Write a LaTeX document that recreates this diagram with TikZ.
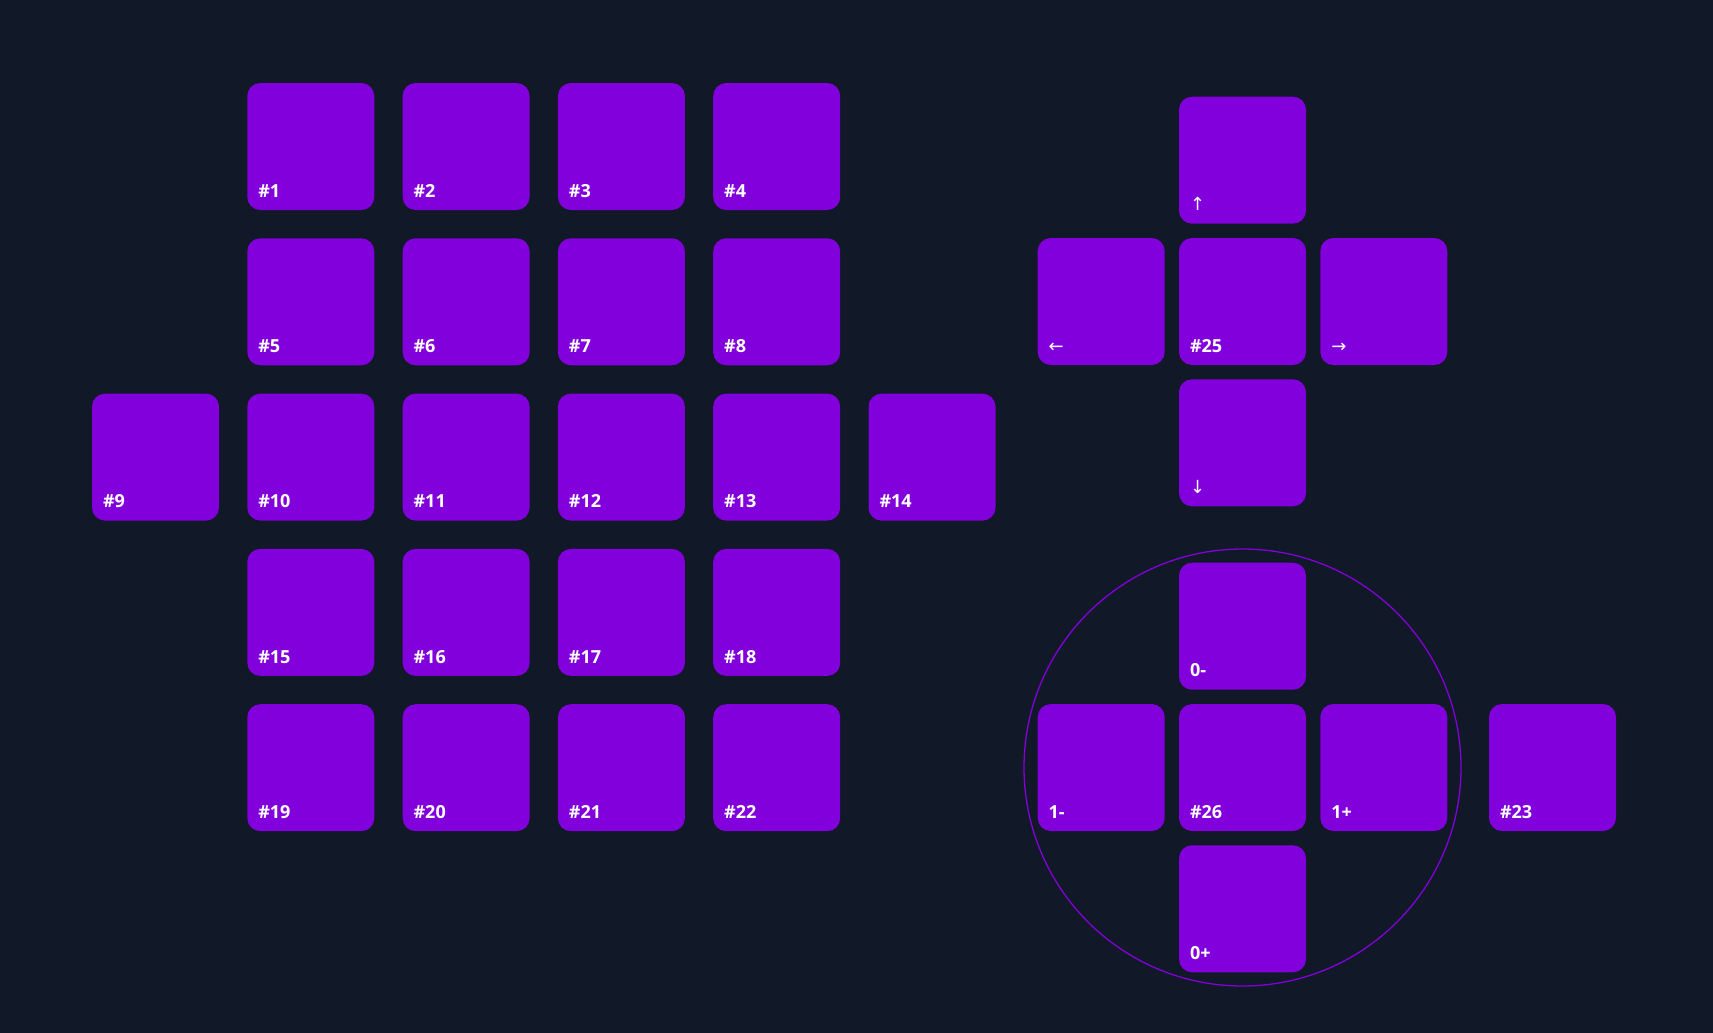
\documentclass[tikz,border=0pt]{standalone}
\usepackage{fontspec}
\setmainfont{Open Sans}
\newfontfamily\arrowfont{DejaVu Sans}
\usepackage{tikz}

\definecolor{bgdark}{HTML}{111827}
\definecolor{keypurple}{HTML}{8200DB}

\begin{document}
\begin{tikzpicture}[x=1pt, y=-1pt, node distance={155.3pt},
    tag/.style = {anchor=base west, xshift=11pt, yshift=13pt, inner sep=0pt, text=white,
                  font=\bfseries\fontsize{18}{18}\selectfont},
    key/.style = {fill=keypurple, rounded corners=13pt, minimum size=127pt, inner sep=0pt,
                  label={[tag]south west:#1}},
    ring/.style = {draw=keypurple, line width=1.3pt}]
        \fill[bgdark] (0,0) rectangle (1713,1033);
        \useasboundingbox (0,0) rectangle (1713,1033);

        % main grid
        \node[key=\#1] (1) at (310.8,146.5) {};
        \node[key=\#2] (2) [right of=1] {};
        \node[key=\#3] (3) [right of=2] {};
        \node[key=\#4] (4) [right of=3] {};

        \node[key=\#5] (5) [below of=1] {};
        \node[key=\#6] (6) [right of=5] {};
        \node[key=\#7] (7) [right of=6] {};
        \node[key=\#8] (8) [right of=7] {};

        \node[key=\#10] (10) [below of=5] {};
        \node[key=\#9] (9) [left of=10] {};
        \node[key=\#11] (11) [right of=10] {};
        \node[key=\#12] (12) [right of=11] {};
        \node[key=\#13] (13) [right of=12] {};
        \node[key=\#14] (14) [right of=13] {};

        \node[key=\#15] (15) [below of=10] {};
        \node[key=\#16] (16) [right of=15] {};
        \node[key=\#17] (17) [right of=16] {};
        \node[key=\#18] (18) [right of=17] {};

        \node[key=\#19] (19) [below of=15] {};
        \node[key=\#20] (20) [right of=19] {};
        \node[key=\#21] (21) [right of=20] {};
        \node[key=\#22] (22) [right of=21] {};

        % arrow pad
        \begin{scope}[node distance={141.3pt}]
        \node[key=\#25] (25) at (1242.5,301.5) {};
        \node[key={\arrowfont\mdseries ↑}] (up) [above of=25] {};
        \node[key={\arrowfont\mdseries ↓}] (dn) [below of=25] {};
        \node[key={\arrowfont\mdseries ←}] (lt) [left of=25] {};
        \node[key={\arrowfont\mdseries →}] (rt) [right of=25] {};

        % dial
        \node[key=\#26] (26) at (1242.5,767.5) {};
        \node[key=0-] (0m) [above of=26] {};
        \node[key=0+] (0p) [below of=26] {};
        \node[key=1-] (1m) [left of=26] {};
        \node[key=1+] (1p) [right of=26] {};
        \end{scope}
        \draw[ring] (26.center) circle[radius=218.5pt];

        \node[key=\#23] (23) at (1552.5,767.5) {};
\end{tikzpicture}
\end{document}
